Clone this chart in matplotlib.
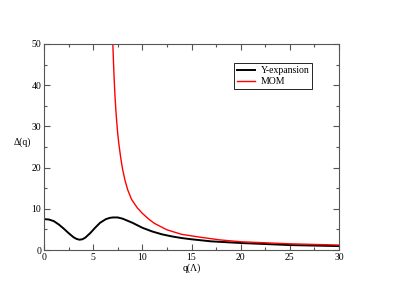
import numpy as np
import matplotlib
matplotlib.use("Agg")
import matplotlib.pyplot as plt
from matplotlib.ticker import MultipleLocator

plt.rcParams.update({'font.family': 'Liberation Serif',
                     'font.size': 7,
                     'xtick.labelsize': 7,
                     'ytick.labelsize': 7})

# Y-expansion curve
q_y = [0, 0.5, 1.0, 1.5, 2.0, 2.5, 3.0, 3.3, 3.6, 3.9, 4.2, 4.7, 5.2, 5.7, 6.3,
       6.7, 7.0, 7.5, 8.0, 9.0, 10.0, 11.0, 12.0, 13.0, 14.0, 15.0, 17.0, 20.0,
       25.0, 30.0]
d_y = [7.5, 7.4, 7.0, 6.2, 5.2, 4.1, 3.1, 2.7, 2.5, 2.6, 3.0, 4.1, 5.4, 6.6, 7.5,
       7.8, 7.9, 7.9, 7.6, 6.6, 5.4, 4.5, 3.8, 3.3, 2.9, 2.6, 2.1, 1.7,
       1.2, 0.95]

# MOM curve
q_m = [7.0, 7.1, 7.2, 7.3, 7.4, 7.5, 7.6, 7.8, 8.0, 8.25, 8.5, 8.9, 9.5, 10.0,
       10.6, 11.2, 12.5, 14.0, 15.9, 17.9, 20.0, 25.0, 30.0]
d_m = [50.0, 43.5, 38.2, 34.2, 31.0, 28.2, 26.0, 22.4, 19.5, 16.8, 14.7, 12.3,
       10.2, 8.9, 7.6, 6.5, 4.9, 3.8, 3.1, 2.45, 2.0, 1.5, 1.2]

fig = plt.figure(figsize=(3.93, 3.04), dpi=100)
ax = fig.add_axes([44/393, 1-250/304, 295/393, 206/304])

ax.plot(q_y, d_y, color='black', lw=1.4, label='Y-expansion')
ax.plot(q_m, d_m, color='red', lw=1.0, label='MOM')

ax.set_xlim(0, 30)
ax.set_ylim(0, 50)
ax.xaxis.set_major_locator(MultipleLocator(5))
ax.xaxis.set_minor_locator(MultipleLocator(2.5))
ax.yaxis.set_major_locator(MultipleLocator(10))
ax.yaxis.set_minor_locator(MultipleLocator(5))
ax.tick_params(which='both', direction='in', top=True, right=True,
               color='#555555', width=0.8, pad=2)
ax.tick_params(which='major', length=4)
ax.tick_params(which='minor', length=2)
for s in ax.spines.values():
    s.set_color('#555555')
    s.set_linewidth(0.8)

ax.set_xlabel('q(Λ)', labelpad=1)
ax.set_ylabel('Δ(q)', rotation=0, labelpad=8)
ax.yaxis.set_label_coords(-0.075, 0.5)

leg = ax.legend(loc='upper right', bbox_to_anchor=(0.925, 0.93), fancybox=False,
                edgecolor='black', framealpha=1, handlelength=1.8,
                borderpad=0.3, labelspacing=0.2, handletextpad=0.6)
leg.get_frame().set_linewidth(0.6)

fig.savefig('out.png', dpi=100)
